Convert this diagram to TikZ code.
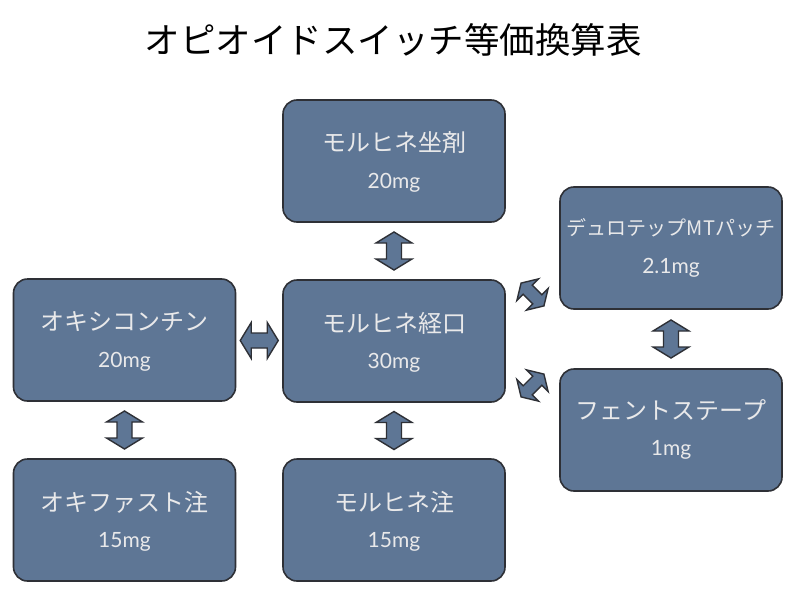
\documentclass[tikz,border=0pt]{standalone}
\usepackage{fontspec}
\setmainfont{Lato}
\newfontfamily\jp{Noto Sans CJK JP}
\newfontfamily\numf{Lato}
\usetikzlibrary{calc}
\definecolor{boxfill}{HTML}{5E7695}
\definecolor{boxline}{HTML}{2E3036}
\definecolor{boxtext}{HTML}{E9E9EA}
\tikzset{
  drug/.style={draw=boxline, line width=1.6pt, fill=boxfill, rounded corners=14pt,
    minimum width=222pt, minimum height=122pt, inner sep=0pt},
  lineA/.style={text=boxtext, font=\jp\fontsize{24}{24}\selectfont},
  lineAs/.style={text=boxtext, font=\jp\fontsize{20}{20}\selectfont},
  lineB/.style={text=boxtext, font=\numf\fontsize{21}{21}\selectfont},
  pics/dbl/.style={code={
    \draw[boxline, line width=1.4pt, fill=boxfill, line join=miter]
      (-19pt,0) -- (-8pt,18pt) -- (-8pt,7.5pt) -- (8pt,7.5pt) -- (8pt,18pt) -- (19pt,0)
      -- (8pt,-18pt) -- (8pt,-7.5pt) -- (-8pt,-7.5pt) -- (-8pt,-18pt) -- cycle;
  }}
}
\begin{document}
\begin{tikzpicture}[x=1pt,y=-1pt]
\useasboundingbox[fill=white] (0,0) rectangle (786,594);
\node[font=\jp\fontsize{35.5}{35.5}\selectfont, text=black] (title) at (393,40) {オピオイドスイッチ等価換算表};

\node[drug] (sup) at (394,161) {};
\node[drug] (oral) at (394,341) {};
\node[drug] (inj) at (394,520) {};
\node[drug] (oxy) at (124.5,340) {};
\node[drug] (oxf) at (124.5,520) {};
\node[drug] (dur) at (671,248) {};
\node[drug] (fen) at (671,430) {};

\node[lineA] (supA) at ($(sup)+(0,-18)$) {モルヒネ坐剤};
\node[lineB] (supB) at ($(sup)+(0,22)$) {20mg};
\node[lineA] (oralA) at ($(oral)+(0,-18)$) {モルヒネ経口};
\node[lineB] (oralB) at ($(oral)+(0,22)$) {30mg};
\node[lineA] (injA) at ($(inj)+(0,-18)$) {モルヒネ注};
\node[lineB] (injB) at ($(inj)+(0,22)$) {15mg};
\node[lineA] (oxyA) at ($(oxy)+(0,-18)$) {オキシコンチン};
\node[lineB] (oxyB) at ($(oxy)+(0,22)$) {20mg};
\node[lineA] (oxfA) at ($(oxf)+(0,-18)$) {オキファスト注};
\node[lineB] (oxfB) at ($(oxf)+(0,22)$) {15mg};
\node[lineAs] (durA) at ($(dur)+(0,-20)$) {デュロテップMTパッチ};
\node[lineB] (durB) at ($(dur)+(0,20)$) {2.1mg};
\node[lineA] (fenA) at ($(fen)+(0,-20)$) {フェントステープ};
\node[lineB] (fenB) at ($(fen)+(0,20)$) {1mg};

\pic[rotate=90] at ($(sup.south)!0.5!(oral.north)$) {dbl};
\pic[rotate=90] at ($(oral.south)!0.5!(inj.north)$) {dbl};
\pic[rotate=90] at ($(oxy.south)!0.5!(oxf.north)$) {dbl};
\pic[rotate=90] at ($(dur.south)!0.5!(fen.north)$) {dbl};
\pic at ($(oxy.east)!0.5!(oral.west)$) {dbl};
\pic[rotate=-45, scale=0.85] at ($(oral.north east)!0.5!(dur.south west)$) {dbl};
\pic[rotate=45, scale=0.85] at ($(oral.south east)!0.5!(fen.north west)$) {dbl};
\end{tikzpicture}
\end{document}
